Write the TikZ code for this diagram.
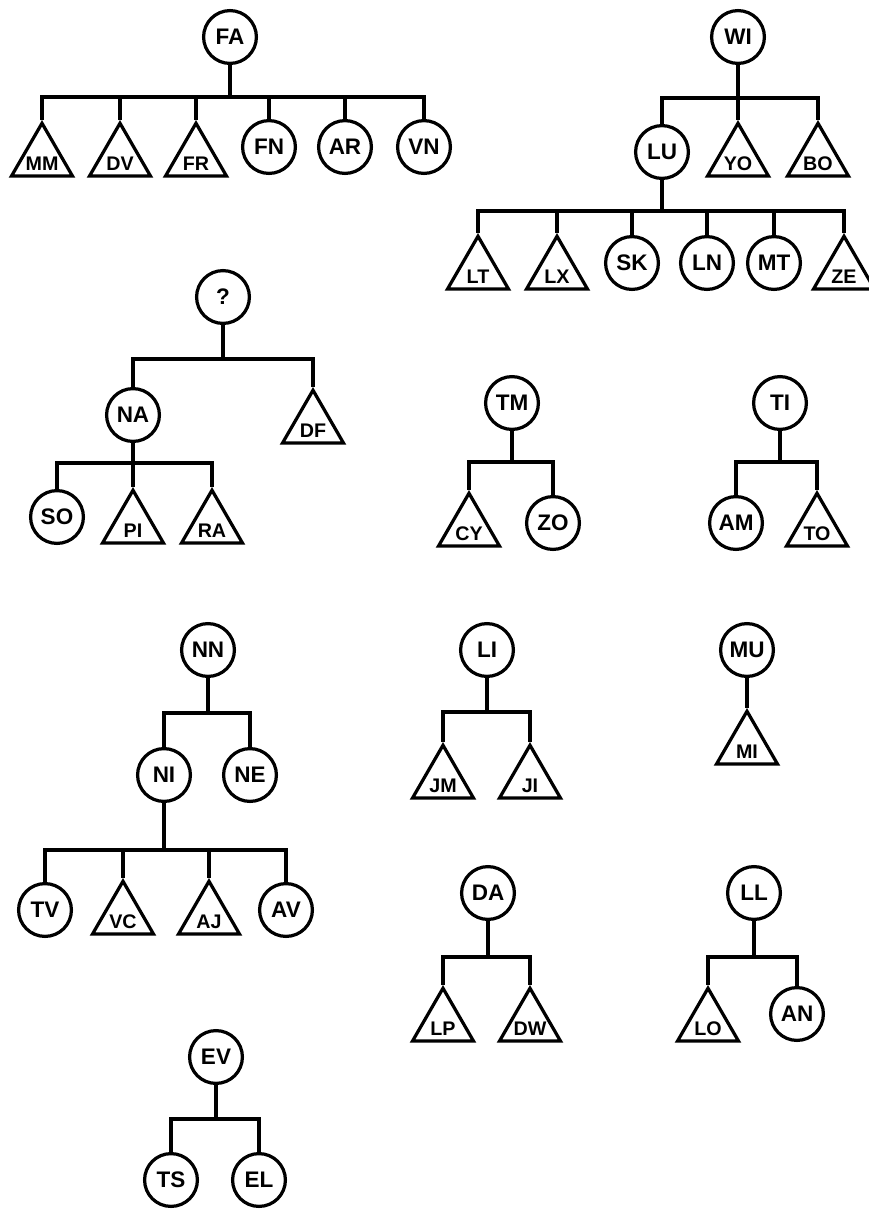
\documentclass[tikz,border=0pt]{standalone}
\usepackage{fontspec}
\setmainfont{Liberation Sans}
\usetikzlibrary{shapes.geometric}
\definecolor{ink}{HTML}{000000}
\newcommand{\ringfont}{\fontsize{16}{18}\selectfont\bfseries}
\newcommand{\wedgefont}{\fontsize{14}{16}\selectfont\bfseries}
\tikzset{
 every node/.append style={text=ink},
 ring/.style={circle,draw=ink,fill=white,line width=2.3pt,minimum size=1.32cm,inner sep=0pt,font=\ringfont},
 wedge/.style={regular polygon,regular polygon sides=3,draw=ink,fill=white,line width=2.3pt,minimum size=1.76cm,inner sep=0pt,anchor=corner 1},
 tag/.style={font=\wedgefont,inner sep=0pt,yshift=-3.8pt},
 link/.style={draw=ink,line width=2.3pt},
}

\begin{document}
\begin{tikzpicture}[x=0.025cm,y=-0.025cm]

\useasboundingbox (0,0) rectangle (869,1212);

% FA
\node[ring] (fa) at (230,37) {FA};
\coordinate (fabar) at (230,97);
\node[wedge,label={[tag]center:MM}] (mm) at (42,120) {};
\node[wedge,label={[tag]center:DV}] (dv) at (120,120) {};
\node[wedge,label={[tag]center:FR}] (fr) at (196,120) {};
\node[ring] (fn) at (269,147) {FN};
\node[ring] (ar) at (345,147) {AR};
\node[ring] (vn) at (424,147) {VN};
\draw[link] (fa) -- (fabar);
\foreach \c in {mm.corner 1,dv.corner 1,fr.corner 1,fn.north,ar.north,vn.north}
  \draw[link] (\c) |- (fabar);

% WI
\node[ring] (wi) at (738,37) {WI};
\coordinate (wibar) at (738,98);
\node[ring] (lu) at (662,152) {LU};
\node[wedge,label={[tag]center:YO}] (yo) at (738,120) {};
\node[wedge,label={[tag]center:BO}] (bo) at (818,120) {};
\draw[link] (wi) -- (wibar);
\foreach \c in {lu.north,yo.corner 1,bo.corner 1}
  \draw[link] (\c) |- (wibar);

\coordinate (lubar) at (662,211);
\node[wedge,label={[tag]center:LT}] (lt) at (478,233) {};
\node[wedge,label={[tag]center:LX}] (lx) at (557,233) {};
\node[ring] (sk) at (632,263) {SK};
\node[ring] (ln) at (707,263) {LN};
\node[ring] (mt) at (774,263) {MT};
\node[wedge,label={[tag]center:ZE}] (ze) at (844,233) {};
\draw[link] (lu) -- (lubar);
\foreach \c in {lt.corner 1,lx.corner 1,sk.north,ln.north,mt.north,ze.corner 1}
  \draw[link] (\c) |- (lubar);

% ?
\node[ring] (q) at (223,297) {?};
\coordinate (qbar) at (223,359);
\node[ring] (na) at (133,415) {NA};
\node[wedge,label={[tag]center:DF}] (df) at (313,387) {};
\draw[link] (q) -- (qbar);
\foreach \c in {na.north,df.corner 1}
  \draw[link] (\c) |- (qbar);

\coordinate (nabar) at (133,463);
\node[ring] (so) at (57,517) {SO};
\node[wedge,label={[tag]center:PI}] (pi) at (133,487) {};
\node[wedge,label={[tag]center:RA}] (ra) at (212,487) {};
\draw[link] (na) -- (nabar);
\foreach \c in {so.north,pi.corner 1,ra.corner 1}
  \draw[link] (\c) |- (nabar);

% TM, TI
\node[ring] (tm) at (512,403) {TM};
\coordinate (tmbar) at (512,462);
\node[wedge,label={[tag]center:CY}] (cy) at (469,490) {};
\node[ring] (zo) at (553,523) {ZO};
\draw[link] (tm) -- (tmbar);
\foreach \c in {cy.corner 1,zo.north}
  \draw[link] (\c) |- (tmbar);

\node[ring] (ti) at (780,403) {TI};
\coordinate (tibar) at (780,462);
\node[ring] (am) at (736,523) {AM};
\node[wedge,label={[tag]center:TO}] (to) at (817,490) {};
\draw[link] (ti) -- (tibar);
\foreach \c in {am.north,to.corner 1}
  \draw[link] (\c) |- (tibar);

% NN
\node[ring] (nn) at (208,650) {NN};
\coordinate (nnbar) at (208,713);
\node[ring] (ni) at (164,775) {NI};
\node[ring] (ne) at (250,775) {NE};
\draw[link] (nn) -- (nnbar);
\foreach \c in {ni.north,ne.north}
  \draw[link] (\c) |- (nnbar);

\coordinate (nibar) at (164,850);
\node[ring] (tv) at (45,910) {TV};
\node[wedge,label={[tag]center:VC}] (vc) at (123,878) {};
\node[wedge,label={[tag]center:AJ}] (aj) at (209,878) {};
\node[ring] (av) at (286,910) {AV};
\draw[link] (ni) -- (nibar);
\foreach \c in {tv.north,vc.corner 1,aj.corner 1,av.north}
  \draw[link] (\c) |- (nibar);

% LI, MU
\node[ring] (li) at (487,650) {LI};
\coordinate (libar) at (487,712);
\node[wedge,label={[tag]center:JM}] (jm) at (443,742) {};
\node[wedge,label={[tag]center:JI}] (ji) at (530,742) {};
\draw[link] (li) -- (libar);
\foreach \c in {jm.corner 1,ji.corner 1}
  \draw[link] (\c) |- (libar);

\node[ring] (mu) at (747,650) {MU};
\node[wedge,label={[tag]center:MI}] (mi) at (747,708) {};
\draw[link] (mu) -- (mi.corner 1);

% DA, LL
\node[ring] (da) at (488,893) {DA};
\coordinate (dabar) at (488,957);
\node[wedge,label={[tag]center:LP}] (lp) at (443,985) {};
\node[wedge,label={[tag]center:DW}] (dw) at (530,985) {};
\draw[link] (da) -- (dabar);
\foreach \c in {lp.corner 1,dw.corner 1}
  \draw[link] (\c) |- (dabar);

\node[ring] (ll) at (754,893) {LL};
\coordinate (llbar) at (754,957);
\node[wedge,label={[tag]center:LO}] (lo) at (708,985) {};
\node[ring] (an) at (797,1014) {AN};
\draw[link] (ll) -- (llbar);
\foreach \c in {lo.corner 1,an.north}
  \draw[link] (\c) |- (llbar);

% EV
\node[ring] (ev) at (216,1057) {EV};
\coordinate (evbar) at (216,1119);
\node[ring] (ts) at (171,1180) {TS};
\node[ring] (el) at (259,1180) {EL};
\draw[link] (ev) -- (evbar);
\foreach \c in {ts.north,el.north}
  \draw[link] (\c) |- (evbar);

\end{tikzpicture}
\end{document}
